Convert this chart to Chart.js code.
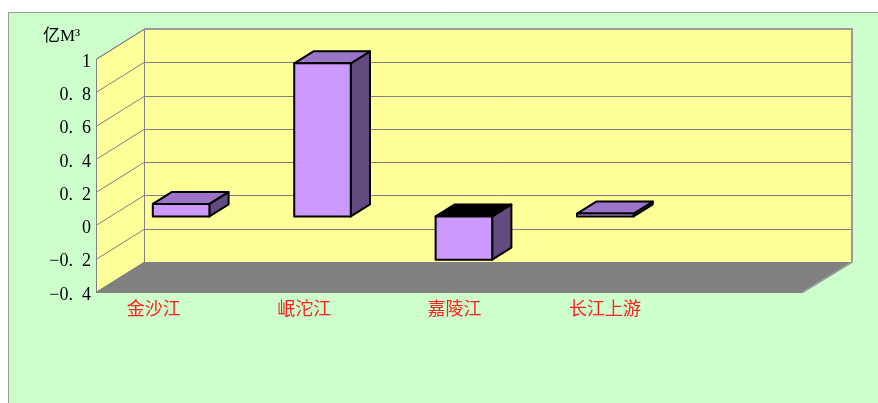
<!DOCTYPE html>
<html>
<head>
<meta charset="utf-8">
<script src="https://cdn.jsdelivr.net/npm/chart.js@4.4.1/dist/chart.umd.min.js"></script>
<style>
  html, body { margin: 0; padding: 0; background: #ffffff; }
  #wrap { width: 878px; height: 403px; }
</style>
</head>
<body>
<div id="wrap"><canvas id="myChart" width="878" height="403"></canvas></div>
<script>
// data
var rivers = ["金沙江", "岷沱江", "嘉陵江", "长江上游", ""];
var flow = [0.075, 0.92, -0.26, 0.017, null];
var yTicks = [-0.4, -0.2, 0, 0.2, 0.4, 0.6, 0.8, 1];
var yTickLabels = ["−0.\u20024", "−0.\u20022", "0", "0.\u20022", "0.\u20024", "0.\u20026", "0.\u20028", "1"];
var unitLabel = "亿M³";

// 3d look
var depthX = 48, depthY = -30;
var barFront = 0.3, barBack = 0.7;
var labelSpread = 0.0635; // excel spreads the category labels a bit wider than the bars

function poly(ctx, pts, fill, stroke, lw) {
  ctx.beginPath();
  ctx.moveTo(pts[0][0], pts[0][1]);
  for (var i = 1; i < pts.length; i++) ctx.lineTo(pts[i][0], pts[i][1]);
  ctx.closePath();
  if (fill) { ctx.fillStyle = fill; ctx.fill(); }
  if (stroke) { ctx.strokeStyle = stroke; ctx.lineWidth = lw || 1; ctx.stroke(); }
}

var box3d = {
  id: "box3d",
  beforeDraw: function(chart) {
    var ctx = chart.ctx;
    var a = chart.chartArea;
    var ys = chart.scales.y;
    var L = a.left, R = a.right, T = a.top, B = a.bottom;
    ctx.save();
    ctx.fillStyle = "#ffffff";
    ctx.fillRect(0, 0, chart.width, chart.height);
    // green panel
    ctx.fillStyle = "#CCFFCC";
    ctx.fillRect(8, 12, chart.width, chart.height);
    ctx.strokeStyle = "#999999";
    ctx.lineWidth = 1;
    ctx.beginPath();
    ctx.moveTo(8.5, chart.height);
    ctx.lineTo(8.5, 12.5);
    ctx.lineTo(chart.width, 12.5);
    ctx.stroke();

    // walls and floor
    poly(ctx, [[L, T], [L + depthX, T + depthY], [L + depthX, B + depthY], [L, B]], "#FFFF99");
    poly(ctx, [[L + depthX, T + depthY], [R + depthX, T + depthY], [R + depthX, B + depthY], [L + depthX, B + depthY]], "#FFFF99");
    poly(ctx, [[L, B], [R, B], [R + depthX, B + depthY], [L + depthX, B + depthY]], "#808080");

    // grid lines
    ctx.strokeStyle = "#808080";
    ctx.lineWidth = 1;
    yTicks.forEach(function(v) {
      var y = Math.round(ys.getPixelForValue(v)) + 0.5;
      ctx.beginPath();
      ctx.moveTo(L, y);
      ctx.lineTo(L + depthX, y + depthY);
      ctx.lineTo(R + depthX, y + depthY);
      ctx.stroke();
    });
    // wall edges
    ctx.beginPath();
    ctx.moveTo(L + 0.5, B);
    ctx.lineTo(L + 0.5, T);
    ctx.lineTo(L + depthX + 0.5, T + depthY);
    ctx.lineTo(L + depthX + 0.5, B + depthY);
    ctx.stroke();
    ctx.strokeStyle = "#999999";
    ctx.lineWidth = 2;
    ctx.beginPath();
    ctx.moveTo(L + depthX, T + depthY);
    ctx.lineTo(R + depthX + 1, T + depthY);
    ctx.lineTo(R + depthX + 1, B + depthY);
    ctx.lineTo(R, B);
    ctx.stroke();
    ctx.strokeStyle = "#808080";
    ctx.lineWidth = 1;
    ctx.beginPath();
    ctx.moveTo(L, B + 0.5);
    ctx.lineTo(R, B + 0.5);
    ctx.stroke();

    // unit label
    ctx.fillStyle = "#000000";
    ctx.font = "17px 'Liberation Serif', 'Noto Sans CJK SC'";
    ctx.textAlign = "left";
    ctx.textBaseline = "alphabetic";
    ctx.fillText(unitLabel, L - 53, T - 18);
    ctx.restore();
  },
  afterDatasetsDraw: function(chart) {
    var ctx = chart.ctx;
    var meta = chart.getDatasetMeta(0);
    var xs = chart.scales.x;
    var a = chart.chartArea;
    ctx.save();
    ctx.lineJoin = "round";
    meta.data.forEach(function(el, i) {
      if (flow[i] === null || flow[i] === undefined) return;
      var p = el.getProps(["x", "y", "base", "width"], true);
      var x0 = p.x - p.width / 2 + depthX * barFront;
      var x1 = p.x + p.width / 2 + depthX * barFront;
      var top = Math.min(p.y, p.base) + depthY * barFront;
      var bot = Math.max(p.y, p.base) + depthY * barFront;
      var ddx = depthX * (barBack - barFront), ddy = depthY * (barBack - barFront);
      var topColor = flow[i] < 0 ? "#000000" : "#9B74C8";
      poly(ctx, [[x1, top], [x1 + ddx, top + ddy], [x1 + ddx, bot + ddy], [x1, bot]], "#634A80", "#000000", 2);
      poly(ctx, [[x0, top], [x0 + ddx, top + ddy], [x1 + ddx, top + ddy], [x1, top]], topColor, "#000000", 2);
      poly(ctx, [[x0, top], [x1, top], [x1, bot], [x0, bot]], "#CC99FF", "#000000", 2);
    });

    // category labels
    var mid = (a.left + a.right) / 2;
    ctx.fillStyle = "#FF2020";
    ctx.font = "18px 'Noto Sans CJK SC'";
    ctx.textAlign = "center";
    ctx.textBaseline = "middle";
    rivers.forEach(function(name, i) {
      var c = xs.getPixelForValue(i);
      var lx = c - 4 + (c - mid + 142) * labelSpread;
      ctx.fillText(name, lx, a.bottom + 16);
    });
    ctx.restore();
  }
};

var ctx = document.getElementById("myChart").getContext("2d");
var myChart = new Chart(ctx, {
  type: "bar",
  data: {
    labels: rivers,
    datasets: [{
      data: flow,
      backgroundColor: "rgba(0,0,0,0)",
      borderWidth: 0,
      barPercentage: 0.4,
      categoryPercentage: 1
    }]
  },
  options: {
    responsive: false,
    animation: false,
    devicePixelRatio: 1,
    layout: { padding: { top: 59, right: 75, left: 0, bottom: 0 } },
    plugins: { legend: { display: false }, tooltip: { enabled: false } },
    scales: {
      x: {
        grid: { display: false },
        border: { display: false },
        ticks: { display: false },
        afterFit: function(s) { s.height = 111; }
      },
      y: {
        min: -0.4,
        max: 1,
        afterBuildTicks: function(s) {
          s.ticks = yTicks.map(function(v) { return { value: v }; });
        },
        grid: { display: false },
        border: { display: false },
        ticks: {
          color: "#000000",
          font: { family: "'Liberation Serif'", size: 18 },
          padding: -3,
          labelOffset: 3,
          callback: function(v, idx) { return yTickLabels[idx]; }
        },
        afterFit: function(s) { s.width = 96; }
      }
    }
  },
  plugins: [box3d]
});
</script>
</body>
</html>
